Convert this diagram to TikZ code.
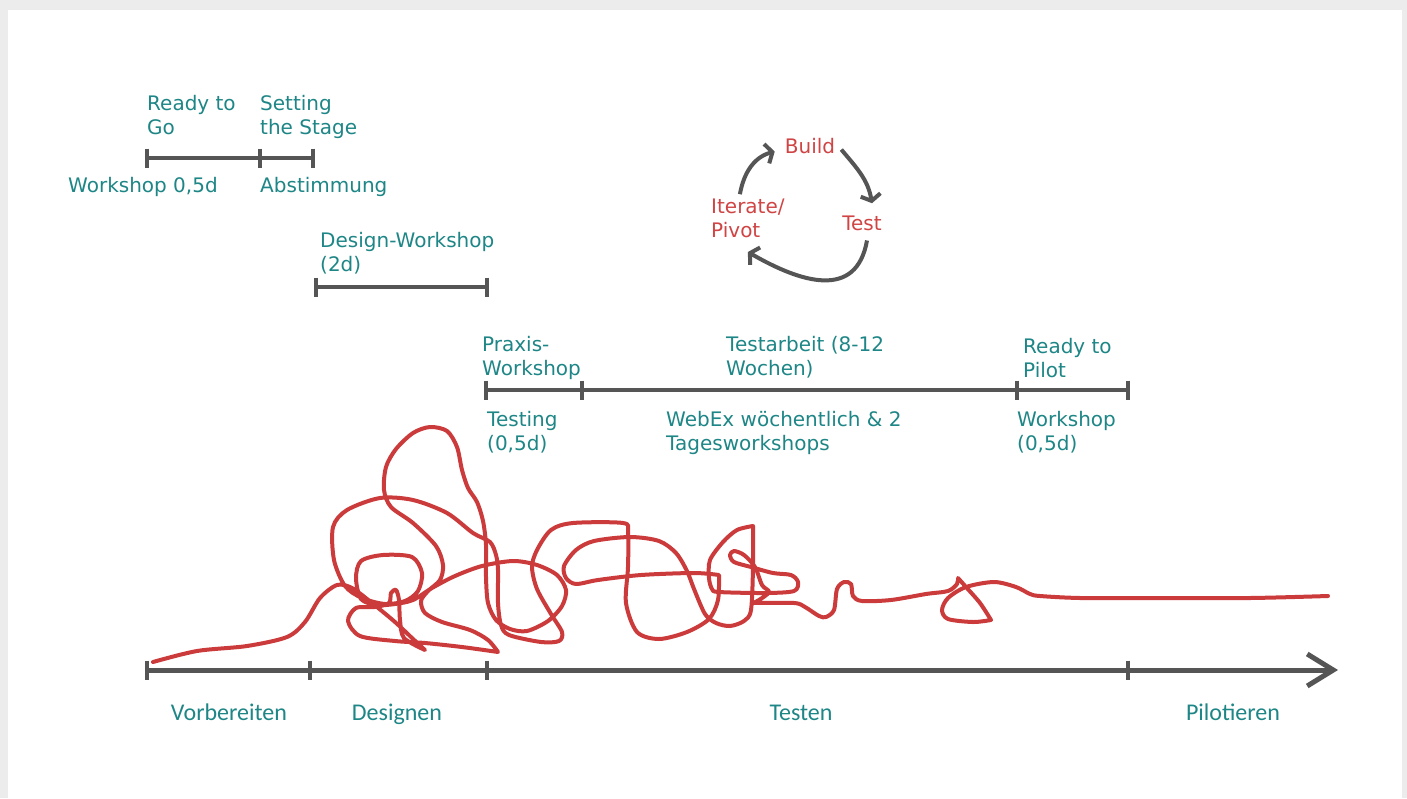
\documentclass[tikz,border=0pt]{standalone}
\usepackage{fontspec}
\usetikzlibrary{arrows.meta}
\newfontfamily\handfont{DejaVu Sans}
\newfontfamily\sketchfont{Carlito}
\definecolor{tealtext}{HTML}{1E8686}
\definecolor{redtext}{HTML}{D04444}
\definecolor{scribblered}{HTML}{CC3B3B}
\definecolor{bargrey}{HTML}{555555}
\definecolor{framegrey}{HTML}{ECECEC}
\tikzset{
  phase/.style={text=tealtext, font=\handfont\fontsize{20}{24.5}\selectfont, align=left, anchor=base west, inner sep=0pt},
  cyclelabel/.style={text=redtext, font=\handfont\fontsize{20}{24.5}\selectfont, align=left, inner sep=0pt},
  axislabel/.style={text=tealtext, font=\sketchfont\fontsize{24}{28}\selectfont, anchor=base, inner sep=0pt},
  bar/.style={draw=bargrey, line width=4.5pt},
  cyclearrow/.style={draw=bargrey, line width=4pt, -{Straight Barb[length=6pt,width=20pt]}},
  scribble/.style={draw=scribblered, line width=4pt, line join=round, line cap=round},
}
\begin{document}
\begin{tikzpicture}[x=1pt, y=-1pt]
  % frame
  \useasboundingbox (0,0) rectangle (1407,798);
  \fill[framegrey] (0,0) rectangle (1407,798);
  \fill[white] (8,10) rectangle (1402,798);

  % Bar points
  \coordinate (rg) at (147,158);
  \coordinate (st) at (260,158);
  \coordinate (stend) at (313,158);
  \coordinate (dw) at (316,287);
  \coordinate (dwend) at (487,287);
  \coordinate (pw) at (486,390);
  \coordinate (ta) at (582,390);
  \coordinate (rp) at (1017,390);
  \coordinate (rpend) at (1128,390);
  \coordinate (ax) at (147,670);
  \coordinate (axdes) at (310,670);
  \coordinate (axtest) at (487,670);
  \coordinate (axpilot) at (1128,670);
  \coordinate (axend) at (1338,670);

  % Drawing bars
  \draw[bar] (rg) -- (stend);
  \draw[bar] (dw) -- (dwend);
  \draw[bar] (pw) -- (rpend);
  \foreach \c in {rg,st,stend,dw,dwend,pw,ta,rp,rpend,ax,axdes,axtest,axpilot}
    \draw[bar] ([yshift=9.5pt]\c) -- ([yshift=-9.5pt]\c);

  % Drawing time axis
  \draw[bar, line width=5pt, -{Straight Barb[length=26pt,width=32pt]}] (ax) -- (axend);

  % Labels above and below bars (y = baseline of last line)
  \node[phase] (readygo) at (147,134.5) {Ready to\\Go};
  \node[phase] (setting) at (260,134.5) {Setting\\the Stage};
  \node[phase] (ws) at (68,192) {Workshop 0,5d};
  \node[phase] (abst) at (260,192) {Abstimmung};
  \node[phase] (design) at (320,271.5) {Design-Workshop\\(2d)};
  \node[phase] (praxis) at (482,375.5) {Praxis-\\Workshop};
  \node[phase] (testarbeit) at (726,375.5) {Testarbeit (8-12\\Wochen)};
  \node[phase] (readypilot) at (1023,377.5) {Ready to\\Pilot};
  \node[phase] (testing) at (487,450.5) {Testing\\(0,5d)};
  \node[phase] (webex) at (666,450.5) {WebEx wöchentlich \& 2\\Tagesworkshops};
  \node[phase] (pilotws) at (1017,450.5) {Workshop\\(0,5d)};

  % Labels under axis
  \node[axislabel] (vorb) at (229,720) {Vorbereiten};
  \node[axislabel] (desg) at (397,720) {Designen};
  \node[axislabel] (test) at (801,720) {Testen};
  \node[axislabel] (pilo) at (1233,720) {Pilotieren};

  % Build - Test - Iterate cycle
  \node[cyclelabel, anchor=base] (build) at (810,153) {Build};
  \node[cyclelabel, anchor=base] (testc) at (862,230) {Test};
  \node[cyclelabel, anchor=base west] (iterate) at (711,237.5) {Iterate/\\Pivot};
  \draw[cyclearrow] ([xshift=-8pt,yshift=4pt]iterate.north) to[out=80,in=195] ([xshift=-10pt,yshift=-6pt]build.west);
  \draw[cyclearrow] ([xshift=6pt,yshift=-4pt]build.east) to[out=-50,in=100] ([xshift=10pt,yshift=12pt]testc.north);
  \draw[cyclearrow] ([xshift=5pt,yshift=-10pt]testc.south) to[out=-100,in=-30,looseness=1.3] ([xshift=0pt,yshift=-14pt]iterate.south);

  % Drawing the red scribble
  \draw[scribble]
    plot[smooth, tension=0.5] coordinates {(153,662) (197,651) (247,646) (287,637) (305,622) (320,598) (337,585) (352,588) (372,603) (395,622) (412,638) (425,650)}
    -- plot[smooth, tension=0.5] coordinates {(425,650) (404,638) (400,620) (399,600) (396,590) (391,593) (389,603) (375,607) (356,608) (348,621) (360,636) (395,641) (425,643) (462,647) (498,652)}
    -- plot[smooth, tension=0.5] coordinates {(498,652) (488,640) (470,630) (442,622) (425,613) (421,601) (428,591) (440,580) (443,565) (436,546) (413,523) (391,507) (384,490) (386,467) (396,449) (413,433) (430,427) (447,431) (457,447) (462,470) (468,488) (477,502) (483,521) (486,545) (486,577) (488,603) (496,620) (510,629) (527,631) (548,621) (562,606) (566,590) (557,575) (537,565) (513,561) (482,566) (455,576) (432,588) (413,600) (395,604) (377,605) (361,599) (356,578) (361,561) (383,555) (412,557) (422,573) (418,591) (405,601) (385,604) (362,598) (345,586) (334,560) (333,527) (347,510) (380,498) (413,500) (447,513) (473,533) (490,542) (496,555) (498,570) (498,603) (501,625) (509,635) (541,642) (559,641) (562,632) (551,614) (537,589) (532,567) (537,550) (551,530) (573,523) (623,523) (628,532) (628,567) (626,603) (637,632) (659,639) (687,632) (709,619) (718,600) (719,575)}
    -- plot[smooth, tension=0.5] coordinates {(719,575) (694,573) (641,575) (598,580) (576,584) (566,578) (564,566) (576,550) (594,541) (630,537) (659,541) (676,553) (687,571) (694,589) (705,614) (716,623) (730,626) (744,621) (751,610) (753,567) (753,526)}
    -- plot[smooth, tension=0.5] coordinates {(753,526) (737,530) (723,542) (710,560) (709,578) (712,589) (719,592) (766,593) (794,591) (798,582) (791,575) (773,573) (751,567) (734,562) (730,555) (734,551) (744,555) (755,567) (762,585) (769,592) (759,600) (753,603)}
    -- plot[smooth, tension=0.5] coordinates {(753,603) (794,603) (805,607) (819,616) (826,617) (834,610) (837,589) (844,582) (851,584) (853,596) (862,601) (891,600) (926,594) (948,591) (957,584) (958,578)}
    -- plot[smooth, tension=0.5] coordinates {(958,578) (966,587) (980,603) (991,620)}
    -- plot[smooth, tension=0.5] coordinates {(991,620) (973,622) (948,619) (942,610) (948,598) (966,587) (994,582) (1016,587) (1030,594) (1040,596) (1080,598) (1150,598) (1250,598) (1328,596)};
\end{tikzpicture}
\end{document}
